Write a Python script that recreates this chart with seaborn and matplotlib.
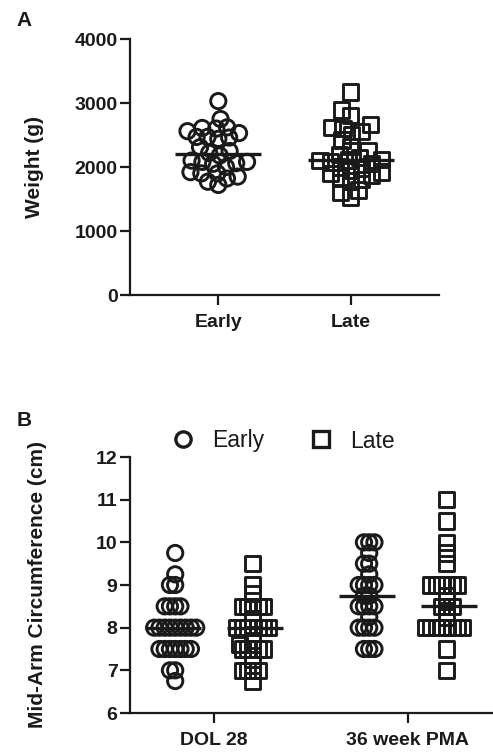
import numpy as np
import pandas as pd
import matplotlib
matplotlib.use("Agg")
import matplotlib.pyplot as plt
import seaborn as sns
from matplotlib.lines import Line2D

# ---------------- data ----------------
groups = ["Early", "Late"]
timepoints = ["DOL 28", "36 week PMA"]

weight_early = [3030, 2750, 2610, 2620, 2600, 2560, 2530, 2470, 2470, 2460,
                2440, 2310, 2250, 2220, 2180, 2100, 2080, 2080, 2060, 2050,
                2000, 1920, 1900, 1900, 1850, 1820, 1770, 1720]
weight_late = [3170, 2890, 2810, 2660, 2620, 2600, 2560, 2500, 2420, 2320,
               2250, 2200, 2150, 2120, 2110, 2100, 2080, 2050, 2000, 1980,
               1950, 1920, 1900, 1870, 1830, 1800, 1780, 1640, 1600, 1530]

mac_dol28_early = [9.75, 9.25, 9.0, 9.0, 8.5, 8.5, 8.5, 8.5,
                   8.0, 8.0, 8.0, 8.0, 8.0, 8.0, 8.0, 8.0, 8.0,
                   7.5, 7.5, 7.5, 7.5, 7.5, 7.5, 7.5, 7.0, 7.0, 6.75]
mac_dol28_late = [9.5, 9.0, 8.8, 8.5, 8.5, 8.5, 8.5, 8.5, 8.2,
                  8.0, 8.0, 8.0, 8.0, 8.0, 8.0, 8.0, 7.7, 7.6,
                  7.5, 7.5, 7.5, 7.5, 7.5, 7.25, 7.0, 7.0, 7.0, 7.0, 6.75]
mac_pma_early = [10.0, 10.0, 10.0, 9.75, 9.5, 9.5, 9.25, 9.0, 9.0, 9.0, 9.0,
                 8.75, 8.75, 8.5, 8.5, 8.5, 8.5, 8.25, 8.0, 8.0, 8.0, 8.0,
                 7.5, 7.5, 7.5]
mac_pma_late = [11.0, 10.5, 10.0, 9.75, 9.5, 9.0, 9.0, 9.0, 9.0, 9.0, 9.0,
                8.75, 8.5, 8.5, 8.5, 8.25, 8.0, 8.0, 8.0, 8.0, 8.0, 8.0,
                8.0, 8.0, 7.5, 7.0]

yticks_a = [0, 1000, 2000, 3000, 4000]
yticks_b = [6, 7, 8, 9, 10, 11, 12]
markers = {"Early": "o", "Late": "s"}

# ---------------- tables ----------------
dfA = pd.DataFrame({
    "group": ["Early"] * len(weight_early) + ["Late"] * len(weight_late),
    "weight": weight_early + weight_late,
})
rows = []
for t, g, vals in [("DOL 28", "Early", mac_dol28_early), ("DOL 28", "Late", mac_dol28_late),
                   ("36 week PMA", "Early", mac_pma_early), ("36 week PMA", "Late", mac_pma_late)]:
    for v in vals:
        rows.append((t, g, v))
dfB = pd.DataFrame(rows, columns=["time", "group", "mac"])

# ---------------- style ----------------
sns.set_theme(style="ticks")
plt.rcParams['font.family'] = ['Liberation Sans', 'DejaVu Sans']
INK = "#1a1a1a"
LW = 1.6
plt.rcParams.update({
    "axes.linewidth": LW, "xtick.major.width": LW, "ytick.major.width": LW,
    "xtick.major.size": 7, "ytick.major.size": 7,
    "axes.edgecolor": INK, "xtick.color": INK, "ytick.color": INK,
    "text.color": INK, "axes.labelcolor": INK,
})

W, H = 493, 752
fig = plt.figure(figsize=(W / 100, H / 100), dpi=100)
axA = fig.add_axes([130 / W, 1 - 295 / H, 309 / W, 256 / H])
axB = fig.add_axes([130 / W, 1 - 713 / H, 362 / W, 256 / H])

# ---------------- panel A ----------------
for g in groups:
    sns.swarmplot(data=dfA[dfA.group == g], x="group", y="weight", order=groups,
                  marker=markers[g], size=7.5, color=INK, ax=axA)
sns.pointplot(data=dfA, x="group", y="weight", order=groups, estimator="median",
              errorbar=None, markers="_", linestyles="none", color=INK,
              markersize=62, markeredgewidth=2.4, ax=axA)
axA.set_xlim(-0.667, 1.667)
axA.set_ylim(0, 4000)
axA.set_yticks(yticks_a)

# ---------------- panel B ----------------
for g in groups:
    sns.swarmplot(data=dfB[dfB.group == g], x="time", y="mac", hue="group",
                  order=timepoints, hue_order=groups, dodge=True,
                  marker=markers[g], size=3.6, palette=[INK, INK], legend=False, ax=axB)
sns.pointplot(data=dfB, x="time", y="mac", hue="group", order=timepoints,
              hue_order=groups, estimator="median", errorbar=None, dodge=0.42,
              markers="_", linestyles="none", palette=[INK, INK],
              markersize=40, markeredgewidth=2.4, legend=False, ax=axB)
axB.set_xlim(-0.433, 1.433)
axB.set_ylim(6, 12)
axB.set_yticks(yticks_b)

# freeze swarm positions computed with small markers, then enlarge markers
fig.canvas.draw()
for ax in (axA, axB):
    for coll in list(ax.collections):
        coll.__dict__.pop("draw", None)
        if len(coll.get_offsets()) == 0:
            coll.remove()
            continue
        coll.set_sizes([11.0 ** 2])
        coll.set_facecolor("none")
        coll.set_edgecolor(INK)
        coll.set_linewidth(2.1)
        coll.set_zorder(3)
    for ln in ax.lines:
        ln.set_zorder(4)

for ax, ylab in [(axA, "Weight (g)"), (axB, "Mid-Arm Circumference (cm)")]:
    sns.despine(ax=ax)
    ax.set_xlabel("")
    ax.set_ylabel(ylab, fontsize=15, fontweight="bold")
    ax.tick_params(axis="both", labelsize=14)
    ax.tick_params(axis="y", pad=2)
    ax.tick_params(axis="x", pad=7)
    for lab in ax.get_xticklabels() + ax.get_yticklabels():
        lab.set_fontweight("bold")
axA.yaxis.set_label_coords((44 - 130) / 309, 0.5)
axB.yaxis.set_label_coords((47 - 130) / 362, 0.5)

fig.text(24 / W, 1 - 21 / H, "A", fontsize=15, fontweight="bold", ha="center", va="center")
fig.text(24 / W, 1 - 421 / H, "B", fontsize=15, fontweight="bold", ha="center", va="center")

handles = [Line2D([], [], marker="o", ls="none", mfc="none", mec=INK, mew=2.4, ms=11),
           Line2D([], [], marker="s", ls="none", mfc="none", mec=INK, mew=2.4, ms=11)]
fig.legend(handles=handles, labels=groups, ncol=2, frameon=False, loc="center",
           bbox_to_anchor=(283 / W, 1 - 441 / H), fontsize=16.5,
           columnspacing=2.0, handletextpad=0.76, handlelength=1.0)

fig.savefig("out.png", dpi=100)
